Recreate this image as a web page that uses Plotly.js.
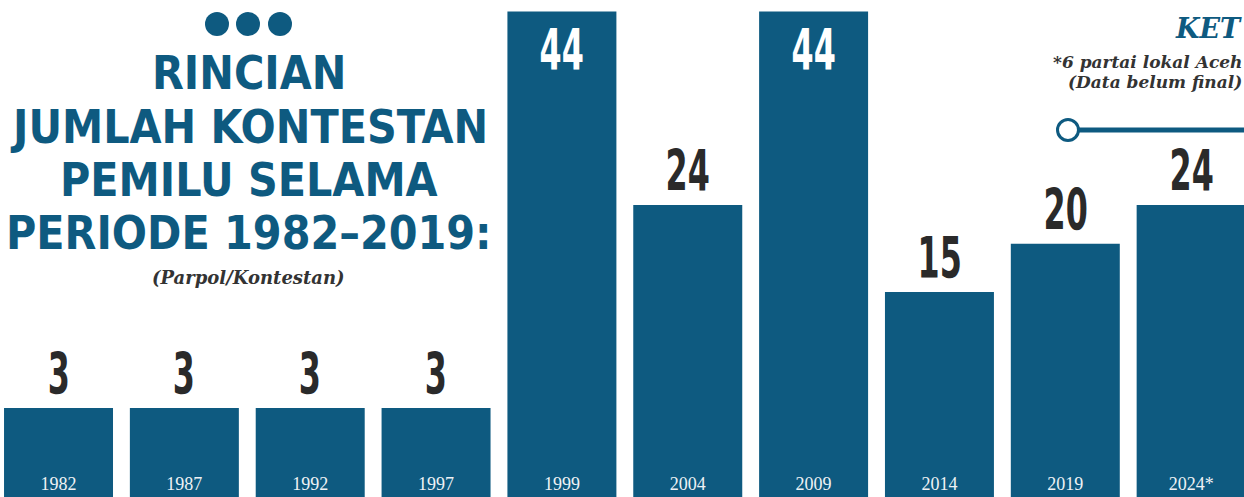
<!DOCTYPE html>
<html>
<head>
<meta charset="utf-8">
<script src="https://cdn.plot.ly/plotly-3.0.1.min.js"></script>
<style>
html,body{margin:0;padding:0;background:#fff;}
#chart{width:1244px;height:497px;}
.annotation.vlabel text{transform-box:fill-box;transform-origin:center;transform:scaleX(0.62);}
</style>
</head>
<body>
<div id="chart"></div>
<script>
// ---- data ----
const years = ["1982","1987","1992","1997","1999","2004","2009","2014","2019","2024*"];
const contestants = [3,3,3,3,44,24,44,15,20,24];
const titleLines = ["RINCIAN","JUMLAH KONTESTAN","PEMILU SELAMA","PERIODE 1982–2019:"];
const subtitle = "(Parpol/Kontestan)";
const noteTitle = "KET";
const noteLines = ["*6 partai lokal Aceh","(Data belum final)"];

// ---- style ----
const BLUE = "#0e5a80";
const DARK = "#2a2a2a";
const AXIS_MIN = -6.2;   // infographic-style truncated baseline
const AXIS_MAX = 45.2;
const W = 1244, H = 497;

const numFont = "'DejaVu Sans Condensed', 'DejaVu Sans', sans-serif";
const titleFont = "'DejaVu Sans Condensed', 'DejaVu Sans', sans-serif";
const serif = "'DejaVu Serif', 'Liberation Serif', serif";
const serif2 = "'Liberation Serif', 'DejaVu Serif', serif";

const trace = {
  type: "bar",
  x: years,
  y: contestants.map(v => v - AXIS_MIN),
  base: AXIS_MIN,
  marker: {color: BLUE, line: {width: 0}},
  hoverinfo: "skip"
};

const annotations = [];
// value labels (x given as category index so numeric-looking years are not misread)
contestants.forEach((v, i) => {
  const inside = v + 5.5 > AXIS_MAX;
  annotations.push({
    x: i, y: v, xref: "x", yref: "y",
    text: String(v), showarrow: false,
    yanchor: inside ? "top" : "bottom",
    yshift: inside ? -3 : -1,
    font: {family: numFont, size: 57, color: inside ? "#ffffff" : DARK, weight: 700}
  });
});
const nValueLabels = annotations.length;
// title lines
const titleCenters = [73, 127, 180, 233];
titleLines.forEach((t, i) => {
  annotations.push({
    x: 249 / W, y: 1 - titleCenters[i] / H, xref: "paper", yref: "paper",
    text: t, showarrow: false, xanchor: "center", yanchor: "middle",
    font: {family: titleFont, size: 46, color: BLUE, weight: 700}
  });
});
annotations.push({
  x: 248 / W, y: 1 - 277 / H, xref: "paper", yref: "paper",
  text: "<b><i>" + subtitle + "</i></b>", showarrow: false, xanchor: "center", yanchor: "middle",
  font: {family: serif, size: 18, color: "#333333"}
});
annotations.push({
  x: 1, y: 1 - 28 / H, xref: "paper", yref: "paper",
  text: "<b><i>" + noteTitle + "</i></b>", showarrow: false, xanchor: "right", yanchor: "middle",
  font: {family: serif, size: 27, color: BLUE}
});
const noteCenters = [62, 82];
noteLines.forEach((t, i) => {
  annotations.push({
    x: 1, y: 1 - noteCenters[i] / H, xref: "paper", yref: "paper",
    text: "<b><i>" + t + "</i></b>", showarrow: false, xanchor: "right", yanchor: "middle",
    font: {family: serif, size: 17, color: "#333333"}
  });
});

const shapes = [];
// three dots
[217, 248, 280].forEach(cx => {
  shapes.push({
    type: "circle", xref: "paper", yref: "paper",
    xsizemode: "pixel", ysizemode: "pixel",
    xanchor: cx / W, yanchor: 1 - 24 / H,
    x0: -12, x1: 12, y0: -12, y1: 12,
    fillcolor: BLUE, line: {width: 0}
  });
});
// legend line with open circle
shapes.push({
  type: "line", xref: "paper", yref: "paper",
  x0: 1068 / W, x1: 1, y0: 1 - 130 / H, y1: 1 - 130 / H,
  line: {color: BLUE, width: 5}
});
shapes.push({
  type: "circle", xref: "paper", yref: "paper",
  xsizemode: "pixel", ysizemode: "pixel",
  xanchor: 1068 / W, yanchor: 1 - 130 / H,
  x0: -10.5, x1: 10.5, y0: -10.5, y1: 10.5,
  fillcolor: "#ffffff", line: {color: BLUE, width: 3}
});

const layout = {
  width: W, height: H,
  margin: {l: 0, r: 0, t: 0, b: 0, pad: 0},
  paper_bgcolor: "#ffffff", plot_bgcolor: "#ffffff",
  showlegend: false,
  bargap: 0.134,
  xaxis: {
    type: "category", range: [-0.465, 9.42],
    showgrid: false, zeroline: false, showline: false, ticks: "",
    ticklabelposition: "inside", ticklabelstandoff: 0,
    tickfont: {family: serif2, size: 18, color: "#eef2f5"},
    fixedrange: true
  },
  yaxis: {
    range: [AXIS_MIN, AXIS_MAX], visible: false, fixedrange: true
  },
  annotations: annotations,
  shapes: shapes
};

Plotly.newPlot("chart", [trace], layout, {staticPlot: true, displayModeBar: false}).then(gd => {
  gd.querySelectorAll("g.annotation").forEach(g => {
    const idx = +g.getAttribute("data-index");
    if (idx < nValueLabels) g.classList.add("vlabel");
  });
});
</script>
</body>
</html>
